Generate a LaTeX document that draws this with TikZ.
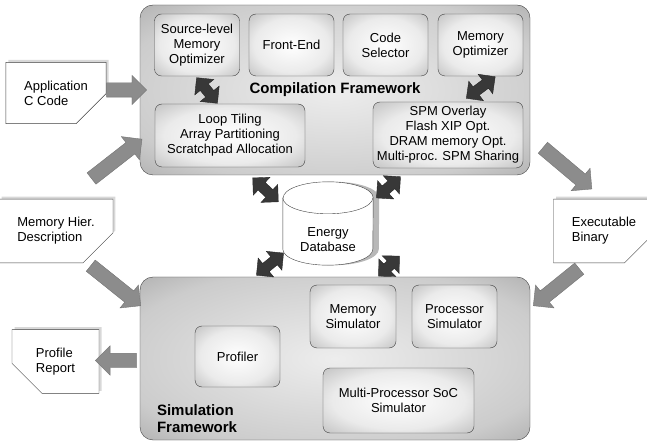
\documentclass[tikz,border=0pt]{standalone}
\usepackage{fontspec}
\setmainfont{Liberation Sans}
\usetikzlibrary{shapes.arrows,shapes.misc,shadows,calc}

\pgfdeclareradialshading{frameshade}{\pgfpoint{0bp}{0bp}}{color(0bp)=(black!7); color(28bp)=(black!20); color(50bp)=(black!48)}
\pgfdeclareradialshading{boxshade}{\pgfpoint{0bp}{0bp}}{color(0bp)=(white); color(22bp)=(black!8); color(50bp)=(black!40)}

\begin{document}
\begin{tikzpicture}[x=1pt,y=-1pt,
  frame/.style={rounded corners=13pt, draw=black!75, shade, shading=frameshade, font=\fontsize{15}{17}\selectfont\bfseries},
  unit/.style={rounded corners=7pt, draw=black!75, shade, shading=boxshade, align=center, inner sep=1pt, font=\fontsize{13}{15}\selectfont},
  doc/.style={chamfered rectangle, chamfered rectangle sep=15pt, draw=black!75, fill=white, drop shadow={shadow xshift=2.5pt, shadow yshift=2.5pt, fill=black!30}, align=left, font=\fontsize{13}{15}\selectfont},
  fatarr/.style={single arrow, sloped, allow upside down, inner sep=7pt, single arrow head extend=7.5pt, fill=black!45, draw=black!55},
  dblarr/.style={double arrow, sloped, allow upside down, inner sep=5pt, double arrow head extend=7pt, fill=black!78, draw=black!85}]
\useasboundingbox (0,0) rectangle (647,443);

% compilation side
\node (cf) at (335,90) [frame, minimum width=390, minimum height=170] {Compilation Framework};
\node (srcopt) at (197,45) [unit, minimum width=85, minimum height=62] {Source-level\\Memory\\Optimizer};
\node (frontend) at (291.5,45) [unit, minimum width=85, minimum height=62] {Front-End};
\node (codesel) at (385.5,45) [unit, minimum width=85, minimum height=62] {Code\\Selector};
\node (memopt) at (480.5,45) [unit, minimum width=85, minimum height=62] {Memory\\Optimizer};
\node (looptile) at (230,135.5) [unit, minimum width=150, minimum height=63] {Loop Tiling\\Array Partitioning\\Scratchpad Allocation};
\node (spmovl) at (448,135) [unit, minimum width=150, minimum height=66] {SPM Overlay\\Flash XIP Opt.\\DRAM memory Opt.\\Multi-proc. SPM Sharing};

% database
\node (db) at (328,223.5) [minimum width=90, minimum height=83, inner sep=0pt, align=center, font=\fontsize{13}{15}\selectfont, text depth=-17pt] {};
\fill[black!28] ($(db.north west)+(6,16)$) -- ($(db.south west)+(6,-16)$) arc[start angle=180, end angle=0, x radius=45, y radius=16] -- ($(db.north east)+(6,16)$) arc[start angle=0, end angle=-180, x radius=45, y radius=16] -- cycle;
\draw[black!75, fill=white] ($(db.north west)+(0,16)$) -- ($(db.south west)+(0,-16)$) arc[start angle=180, end angle=0, x radius=45, y radius=16] -- ($(db.north east)+(0,16)$) arc[start angle=0, end angle=-180, x radius=45, y radius=16] -- cycle;
\draw[black!75] ($(db.north west)+(0,16)$) arc[start angle=180, end angle=0, x radius=45, y radius=16];
\node (dblbl) at ($(db.center)+(0,16)$) [align=center, font=\fontsize{13}{15}\selectfont] {Energy\\Database};

% simulation side
\node (sf) at (335,358.5) [frame, minimum width=390, minimum height=163] {};
\node (sflbl) at ($(sf.south west)+(17,-7)$) [anchor=south west, inner sep=0pt, align=left, font=\fontsize{15}{17}\selectfont\bfseries] {Simulation\\Framework};
\node (profiler) at (237.5,356.5) [unit, minimum width=85, minimum height=61] {Profiler};
\node (memsim) at (353,316.5) [unit, minimum width=86, minimum height=63] {Memory\\Simulator};
\node (procsim) at (454.5,316.5) [unit, minimum width=85, minimum height=63] {Processor\\Simulator};
\node (mpsoc) at (398.5,400.5) [unit, minimum width=151, minimum height=65] {Multi-Processor SoC\\Simulator};

% documents
\node (appdoc) at (56,93) [doc, chamfered rectangle corners=south east, minimum width=88, minimum height=50] {Application\\C Code};
\node (memdoc) at (56,231) [doc, chamfered rectangle corners=south east, minimum width=88, minimum height=48] {Memory Hier.\\Description};
\node (profdoc) at (55.5,361.5) [doc, chamfered rectangle corners=south west, minimum width=87, minimum height=49] {Profile\\Report};
\node (exedoc) at (604,231) [doc, chamfered rectangle corners=south east, minimum width=82, minimum height=48] {Executable\\Binary};

% data flow
\path ($(appdoc.east)+(0,-3)$) -- node[fatarr, minimum height=40] {} (cf.west);
\path ($(memdoc.north)+(35,-20)$) -- node[fatarr, minimum height=64] {} ($(cf.south west)+(-3,-32)$);
\path ($(memdoc.south)+(34,2)$) -- node[fatarr, minimum height=64] {} ($(sf.north west)+(-4,25)$);
\path ($(cf.south east)+(12,-28)$) -- node[fatarr, minimum height=64] {} ($(exedoc.north)+(-17,-14)$);
\path ($(exedoc.south)+(-24,5)$) -- node[fatarr, minimum height=59] {} ($(sf.north east)+(8,25)$);
\path ($(sf.west)+(0,2)$) -- node[fatarr, minimum height=41] {} ($(profdoc.east)+(0,-1)$);

% exchanges
\path ($(srcopt.south)+(0,2)$) -- node[dblarr, minimum height=33] {} ($(looptile.north)+(-13,-1)$);
\path ($(memopt.south)+(14,1)$) -- node[dblarr, minimum height=36] {} ($(spmovl.north)+(19,-4)$);
\path ($(cf.south)+(-82,3)$) -- node[dblarr, minimum height=35] {} ($(db.center)+(-50,-22)$);
\path ($(db.center)+(49,-26)$) -- node[dblarr, minimum height=32] {} ($(cf.south)+(65,2)$);
\path ($(sf.north)+(-78,-2)$) -- node[dblarr, minimum height=35] {} ($(db.center)+(-45,30)$);
\path ($(sf.north)+(45,-2)$) -- node[dblarr, minimum height=29] {} ($(db.center)+(70,34)$);

\end{tikzpicture}
\end{document}
